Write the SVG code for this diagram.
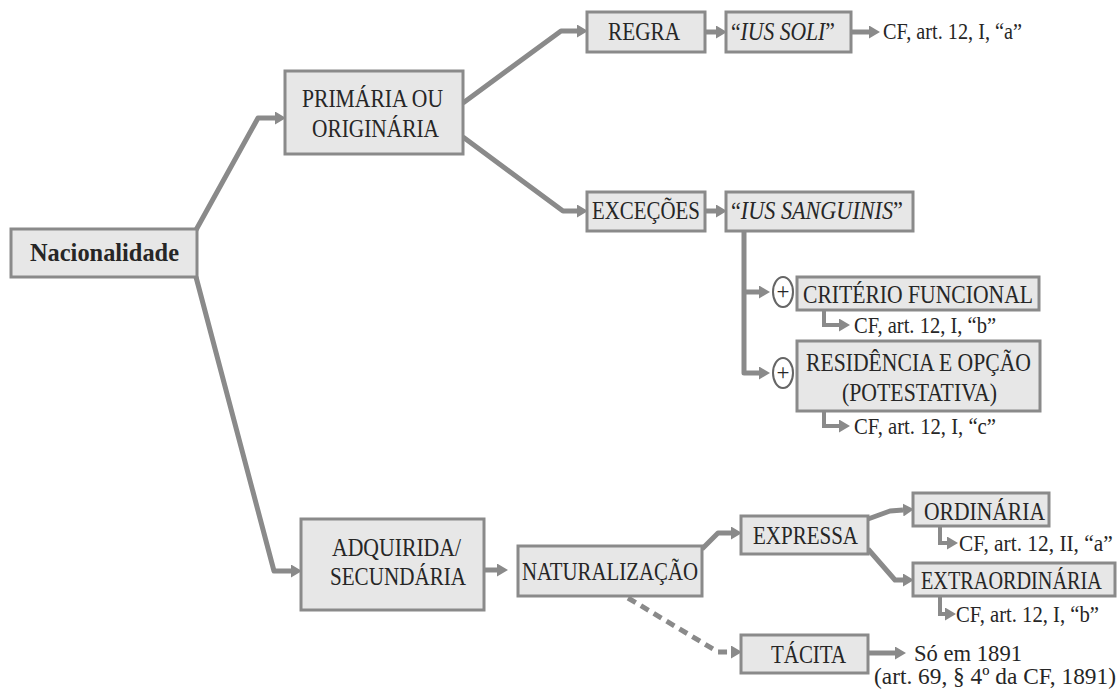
<svg xmlns="http://www.w3.org/2000/svg" width="1118" height="690" viewBox="0 0 1118 690">
<defs>
<marker id="ah" markerUnits="userSpaceOnUse" markerWidth="11" markerHeight="13" refX="0" refY="6.5" orient="auto">
<path d="M0,0 L11,6.5 L0,13 z" fill="#8a8a8a"/>
</marker>
<style>
.box{fill:#e7e7e7;stroke:#8a8a8a;stroke-width:3}
.t{font-family:"Liberation Serif","Times New Roman",serif;font-size:26px;fill:#262626}
.r{font-family:"Liberation Serif","Times New Roman",serif;font-size:23px;fill:#262626}
.c{fill:none;stroke:#8a8a8a;stroke-width:5;stroke-linejoin:round;marker-end:url(#ah)}
.e{fill:none;stroke:#8a8a8a;stroke-width:4;marker-end:url(#ah)}
.d{fill:none;stroke:#8a8a8a;stroke-width:5;stroke-dasharray:9,6;marker-end:url(#ah)}
.plus{fill:#fff;stroke:#666;stroke-width:2}
</style>
</defs>
<rect width="1118" height="690" fill="#fff"/>

<g id="connectors">
<path class="c" d="M196,230 L258,118 L275,118"/>
<path class="c" d="M196,277 L274,571 L291,571"/>
<path class="c" d="M463,103 L561,31 L577,31"/>
<path class="c" d="M463,137 L563,211 L577,211"/>
<path class="c" d="M705,32 L716,32"/>
<path class="c" d="M851,32 L869,32"/>
<path class="c" d="M705,211 L716,211"/>
<path class="c" d="M744,231 V373 H759"/>
<path class="c" d="M742,292 H759"/>
<path class="e" d="M824,310 V325 H839"/>
<path class="e" d="M824,411 V426 H839"/>
<path class="c" d="M484,570 L497,570"/>
<path class="c" d="M702,549 L718,533 L731,533"/>
<path class="c" d="M868,519 L890,511 L903,510"/>
<path class="c" d="M868,549 L895,580 L903,580"/>
<path class="e" d="M940,526 V543 H947"/>
<path class="e" d="M940,597 V614 H945"/>
<path class="d" d="M628,598 L718,652 L731,652"/>
<path class="c" d="M869,653 L895,653"/>
</g>

<g id="nacionalidade">
<rect class="box" x="11" y="229" width="186" height="48"/>
<text class="t" x="30" y="261" font-weight="bold" font-size="27" textLength="149" lengthAdjust="spacingAndGlyphs">Nacionalidade</text>
</g>
<g id="primaria">
<rect class="box" x="285" y="71" width="178" height="83"/>
<text class="t" x="302" y="107" textLength="141" lengthAdjust="spacingAndGlyphs">PRIMÁRIA OU</text>
<text class="t" x="312" y="137" textLength="127" lengthAdjust="spacingAndGlyphs">ORIGINÁRIA</text>
</g>
<g id="regra">
<rect class="box" x="587" y="12" width="118" height="40"/>
<text class="t" x="608" y="40" textLength="72" lengthAdjust="spacingAndGlyphs">REGRA</text>
</g>
<g id="ius-soli">
<rect class="box" x="726" y="12" width="125" height="40"/>
<text class="t" transform="translate(731,40) scale(0.832,1)" x="0" y="0">“<tspan font-style="italic">IUS SOLI</tspan>”</text>
</g>
<g id="ref-a">
<text class="r" x="883" y="39" textLength="139" lengthAdjust="spacingAndGlyphs">CF, art. 12, I, “a”</text>
</g>
<g id="excecoes">
<rect class="box" x="587" y="192" width="118" height="39"/>
<text class="t" x="592" y="219" textLength="108" lengthAdjust="spacingAndGlyphs">EXCEÇÕES</text>
</g>
<g id="ius-sanguinis">
<rect class="box" x="726" y="192" width="187" height="39"/>
<text class="t" transform="translate(731,219) scale(0.854,1)" x="0" y="0">“<tspan font-style="italic">IUS SANGUINIS</tspan>”</text>
</g>
<g id="plus1">
<ellipse class="plus" cx="783" cy="292" rx="10" ry="15"/>
<text class="r" x="783" y="299" text-anchor="middle" font-size="20">+</text>
</g>
<g id="criterio">
<rect class="box" x="797" y="277" width="242" height="33"/>
<text class="t" x="803" y="303" textLength="230" lengthAdjust="spacingAndGlyphs">CRITÉRIO FUNCIONAL</text>
</g>
<g id="ref-b1">
<text class="r" x="854" y="333" textLength="142" lengthAdjust="spacingAndGlyphs">CF, art. 12, I, “b”</text>
</g>
<g id="plus2">
<ellipse class="plus" cx="783" cy="373" rx="10" ry="15"/>
<text class="r" x="783" y="380" text-anchor="middle" font-size="20">+</text>
</g>
<g id="residencia">
<rect class="box" x="797" y="341" width="243" height="70"/>
<text class="t" x="806" y="371" textLength="225" lengthAdjust="spacingAndGlyphs">RESIDÊNCIA E OPÇÃO</text>
<text class="t" x="842" y="401" textLength="155" lengthAdjust="spacingAndGlyphs">(POTESTATIVA)</text>
</g>
<g id="ref-c">
<text class="r" x="854" y="434" textLength="142" lengthAdjust="spacingAndGlyphs">CF, art. 12, I, “c”</text>
</g>
<g id="adquirida">
<rect class="box" x="301" y="519" width="183" height="91"/>
<text class="t" x="332" y="556" textLength="129" lengthAdjust="spacingAndGlyphs">ADQUIRIDA/</text>
<text class="t" x="330" y="585" textLength="136" lengthAdjust="spacingAndGlyphs">SECUNDÁRIA</text>
</g>
<g id="naturalizacao">
<rect class="box" x="518" y="546" width="184" height="50"/>
<text class="t" x="522" y="580" textLength="176" lengthAdjust="spacingAndGlyphs">NATURALIZAÇÃO</text>
</g>
<g id="expressa">
<rect class="box" x="741" y="516" width="127" height="38"/>
<text class="t" x="753" y="544" textLength="105" lengthAdjust="spacingAndGlyphs">EXPRESSA</text>
</g>
<g id="ordinaria">
<rect class="box" x="913" y="493" width="136" height="33"/>
<text class="t" x="924" y="520" textLength="121" lengthAdjust="spacingAndGlyphs">ORDINÁRIA</text>
</g>
<g id="ref-IIa">
<text class="r" transform="translate(959,551) scale(0.93,1)" x="0" y="0">CF, art. 12, II, “a”</text>
</g>
<g id="extraordinaria">
<rect class="box" x="913" y="563" width="202" height="33"/>
<text class="t" transform="translate(921,589) scale(0.778,1)" x="0" y="0">EXTRAORDINÁRIA</text>
</g>
<g id="ref-b2">
<text class="r" x="956" y="622" textLength="143" lengthAdjust="spacingAndGlyphs">CF, art. 12, I, “b”</text>
</g>
<g id="tacita">
<rect class="box" x="741" y="635" width="127" height="38"/>
<text class="t" x="771" y="663" textLength="75" lengthAdjust="spacingAndGlyphs">TÁCITA</text>
</g>
<g id="so-1891">
<text class="r" x="914" y="661" textLength="108" lengthAdjust="spacingAndGlyphs">Só em 1891</text>
<text class="r" x="874" y="684" textLength="242" lengthAdjust="spacingAndGlyphs">(art. 69, § 4º da CF, 1891)</text>
</g>
</svg>
